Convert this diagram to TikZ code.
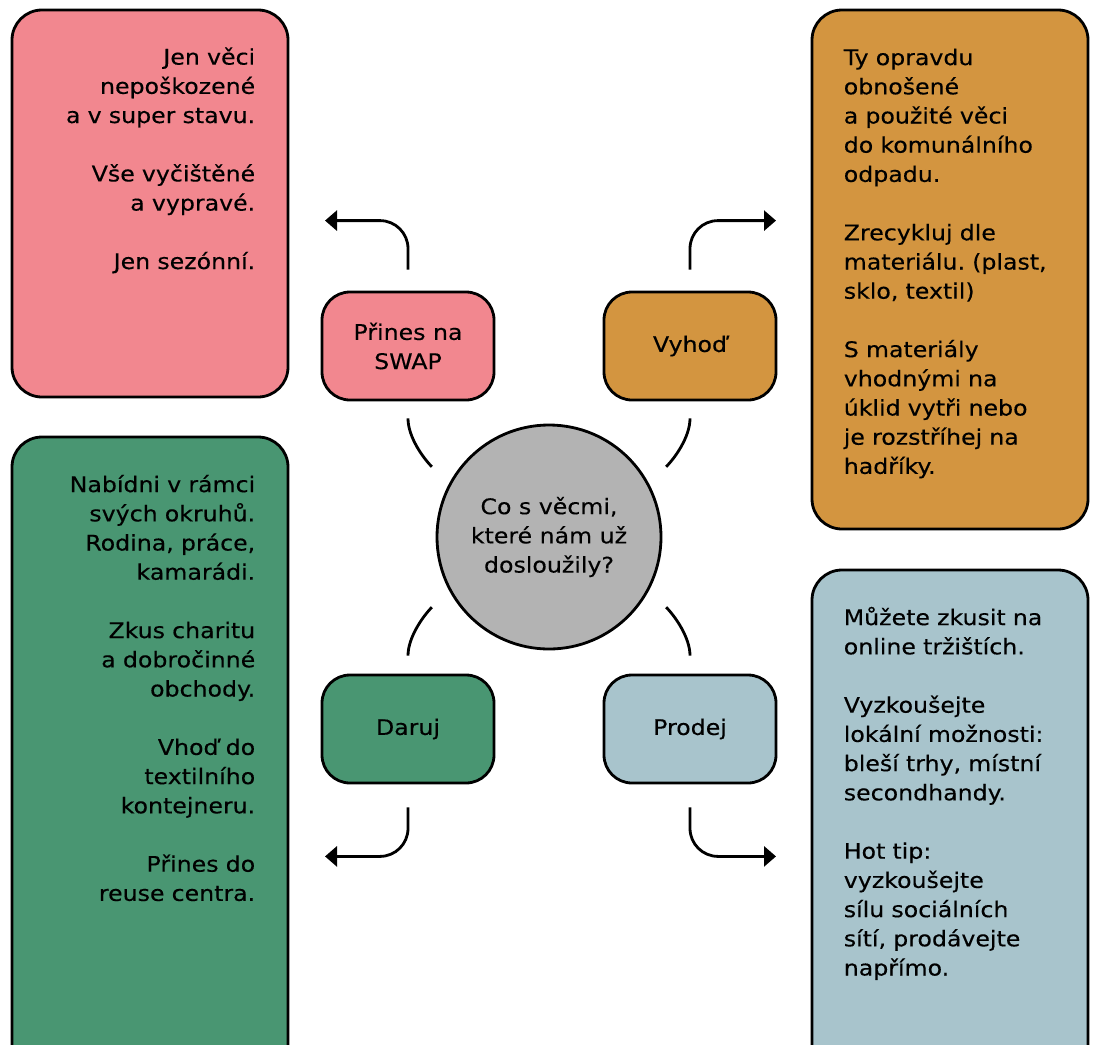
\documentclass[tikz,border=0pt]{standalone}
\usepackage{fontspec}
\setmainfont{DejaVu Sans}[FakeStretch=1.1, FakeBold=0.3]
\usetikzlibrary{arrows.meta}
\frenchspacing

\definecolor{swappink}{RGB}{242,135,143}
\definecolor{trashorange}{RGB}{211,149,64}
\definecolor{givegreen}{RGB}{73,150,114}
\definecolor{sellblue}{RGB}{168,196,204}
\definecolor{hubgray}{RGB}{179,179,179}

\newcommand{\notefont}{\fontsize{21.5}{29.2}\selectfont}

\tikzset{
    bigbox/.style={draw, line width=2.8pt, rounded corners=30pt, minimum width=276pt, inner sep=0pt},
    smallbox/.style={draw, line width=2.8pt, rounded corners=28pt, minimum width=172pt, minimum height=108pt, align=center, font=\notefont},
    notetext/.style={inner sep=0pt, text width=230pt, font=\notefont},
    link/.style={line width=2.8pt},
    arr/.style={line width=2.8pt, rounded corners=28pt, -{Triangle[length=12pt,width=20pt]}},
}

\begin{document}
\begin{tikzpicture}[x=1pt,y=1pt]
    \useasboundingbox (0,0) rectangle (1094,-1044);

    % Big note boxes
    \node[bigbox, fill=swappink, minimum height=387pt] (swapnote) at (150,-203.5) {};
    \node[bigbox, fill=trashorange, minimum height=519pt] (trashnote) at (950,-269.5) {};
    \node[bigbox, fill=givegreen, minimum height=638pt] (givenote) at (150,-756) {};
    \node[bigbox, fill=sellblue, minimum height=505pt] (sellnote) at (950,-822.5) {};

    % Texts of the notes
    \node[notetext, align=right, anchor=base east] (swaptext) at ([xshift=-34pt,yshift=-56pt]swapnote.north east)
        {Jen věci\\ nepoškozené\\ a v super stavu.\\[29.2pt] Vše vyčištěné\\ a vypravé.\\[29.2pt] Jen sezónní.};
    \node[notetext, align=left, anchor=base west] (trashtext) at ([xshift=33pt,yshift=-56.5pt]trashnote.north west)
        {Ty opravdu\\ obnošené\\ a použité věci\\ do komunálního\\ odpadu.\\[29.2pt] Zrecykluj dle\\ materiálu. (plast,\\ sklo, textil)\\[29.2pt] S materiály\\ vhodnými na\\ úklid vytři nebo\\ je rozstříhej na\\ hadříky.};
    \node[notetext, align=right, anchor=base east] (givetext) at ([xshift=-34pt,yshift=-56.5pt]givenote.north east)
        {Nabídni v rámci\\ svých okruhů.\\ Rodina, práce,\\ kamarádi.\\[29.2pt] Zkus charitu\\ a dobročinné\\ obchody.\\[29.2pt] Vhoď do\\ textilního\\ kontejneru.\\[29.2pt] Přines do\\ reuse centra.};
    \node[notetext, align=left, anchor=base west] (selltext) at ([xshift=33pt,yshift=-56.5pt]sellnote.north west)
        {Můžete zkusit na\\ online tržištích.\\[29.2pt] Vyzkoušejte\\ lokální možnosti:\\ bleší trhy, místní\\ secondhandy.\\[29.2pt] Hot tip:\\ vyzkoušejte\\ sílu sociálních\\ sítí, prodávejte\\ napřímo.};

    % Small boxes and the hub
    \node[smallbox, fill=swappink] (swap) at (408,-346) {Přines na\\ SWAP};
    \node[smallbox, fill=trashorange] (trash) at (690,-346) {Vyhoď};
    \node[smallbox, fill=givegreen] (give) at (408,-729) {Daruj};
    \node[smallbox, fill=sellblue] (sell) at (690,-729) {Prodej};
    \node[circle, draw, line width=2.8pt, fill=hubgray, minimum size=224pt, inner sep=0pt, align=center, font=\notefont] (hub) at (549,-537)
        {Co s věcmi,\\ které nám už\\ dosloužily?};

    % Arcs to the hub
    \draw[link, shorten <=17pt, shorten >=24pt] (swap.south) to[out=-90, in=135] (hub.152);
    \draw[link, shorten <=17pt, shorten >=24pt] (trash.south) to[out=-90, in=45] (hub.28);
    \draw[link, shorten <=18pt, shorten >=24pt] (give.north) to[out=90, in=-135] (hub.208);
    \draw[link, shorten <=18pt, shorten >=24pt] (sell.north) to[out=90, in=-45] (hub.-28);

    % Arrows to the notes
    \coordinate (swapout) at ([xshift=-83pt,yshift=70pt]swap.north);
    \coordinate (trashout) at ([xshift=86pt,yshift=70pt]trash.north);
    \coordinate (giveout) at ([xshift=-83pt,yshift=-72pt]give.south);
    \coordinate (sellout) at ([xshift=86pt,yshift=-72pt]sell.south);
    \draw[arr] ([yshift=21pt]swap.north) |- (swapout);
    \draw[arr] ([yshift=21pt]trash.north) |- (trashout);
    \draw[arr] ([yshift=-23pt]give.south) |- (giveout);
    \draw[arr] ([yshift=-23pt]sell.south) |- (sellout);
\end{tikzpicture}
\end{document}
